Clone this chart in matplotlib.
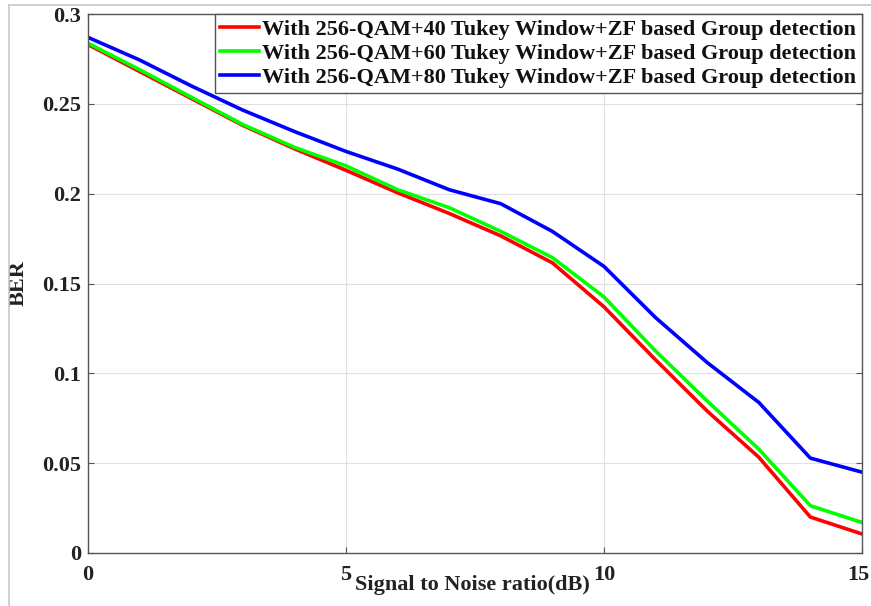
import numpy as np
import matplotlib
matplotlib.use("Agg")
import matplotlib.pyplot as plt
from matplotlib.lines import Line2D
from matplotlib.transforms import ScaledTranslation

snr = [0, 1, 2, 3, 4, 5, 6, 7, 8, 9, 10, 11, 12, 13, 14, 15]
ber_40 = [0.283, 0.268, 0.253, 0.238, 0.225, 0.213, 0.2005, 0.189, 0.1765, 0.1615, 0.137, 0.1075, 0.079, 0.0533, 0.020, 0.0106]
ber_60 = [0.2837, 0.269, 0.2537, 0.2385, 0.2258, 0.2155, 0.2022, 0.1922, 0.179, 0.1644, 0.1425, 0.1124, 0.0846, 0.0578, 0.0263, 0.017]
ber_80 = [0.287, 0.2744, 0.260, 0.2465, 0.2346, 0.2235, 0.2137, 0.2022, 0.1944, 0.179, 0.1595, 0.131, 0.106, 0.0838, 0.0528, 0.045]
labels = ["With 256-QAM+40 Tukey Window+ZF based Group detection",
          "With 256-QAM+60 Tukey Window+ZF based Group detection",
          "With 256-QAM+80 Tukey Window+ZF based Group detection"]
colors = ["#ff0000", "#00ff00", "#0000ff"]

plt.rcParams['font.family'] = ['Liberation Serif', 'DejaVu Serif']
plt.rcParams['font.weight'] = 'bold'

W, H = 871, 606
fig = plt.figure(figsize=(W / 100, H / 100), dpi=100)
# axes box in pixels: left 88, right 862, top 14, bottom 553
ax = fig.add_axes([88 / W, 1 - 553 / H, (862 - 88) / W, (553 - 14) / H])

for y, c, lab in zip([ber_40, ber_60, ber_80], colors, labels):
    ax.plot(snr, y, color=c, lw=2.6, label=lab)

ax.set_xlim(0, 15)
ax.set_ylim(0, 0.3)
ax.set_xticks([0, 5, 10, 15])
ax.set_yticks([0, 0.05, 0.1, 0.15, 0.2, 0.25, 0.3])
ax.set_yticklabels(["0", "0.05", "0.1", "0.15", "0.2", "0.25", "0.3"])
ax.grid(True, color="#e0e0e0", lw=0.8)
ax.tick_params(direction="in", top=True, right=True, length=4, width=0.8,
               colors="#555555", labelcolor="#222222", labelsize=16)
ax.tick_params(axis="x", pad=9)
ax.tick_params(axis="y", pad=5)
for s in ax.spines.values():
    s.set_color("#555555")
    s.set_linewidth(1.0)

# keep the last x tick label inside the picture
last = ax.get_xticklabels()[-1]
last.set_transform(last.get_transform() + ScaledTranslation(-4 / 100, 0, fig.dpi_scale_trans))

ax.set_ylabel("BER", fontsize=16, fontweight="bold", color="#222222", labelpad=10)
fig.text(472 / W, 1 - 585 / H, "Signal to Noise ratio(dB)", ha="center", va="center",
         fontsize=16, fontweight="bold", color="#222222")

leg = ax.legend(loc="upper right", bbox_to_anchor=(1.0, 1.0),
                frameon=True, fancybox=False, borderaxespad=0, handlelength=1.75,
                handletextpad=0.15, labelspacing=0.15, borderpad=0.25,
                prop={"weight": "bold", "size": 16})
leg.get_frame().set_edgecolor("#555555")
leg.get_frame().set_linewidth(1.0)
leg.get_frame().set_alpha(1.0)
for t in leg.get_texts():
    t.set_color("#111111")

# light outer frame of the original figure
fig.add_artist(Line2D([9 / W, 9 / W], [0, 1 - 5 / H], color="#c8c8c8", lw=1.2))
fig.add_artist(Line2D([9 / W, 1], [1 - 5 / H, 1 - 5 / H], color="#c8c8c8", lw=1.2))

fig.savefig("out.png", dpi=100)
